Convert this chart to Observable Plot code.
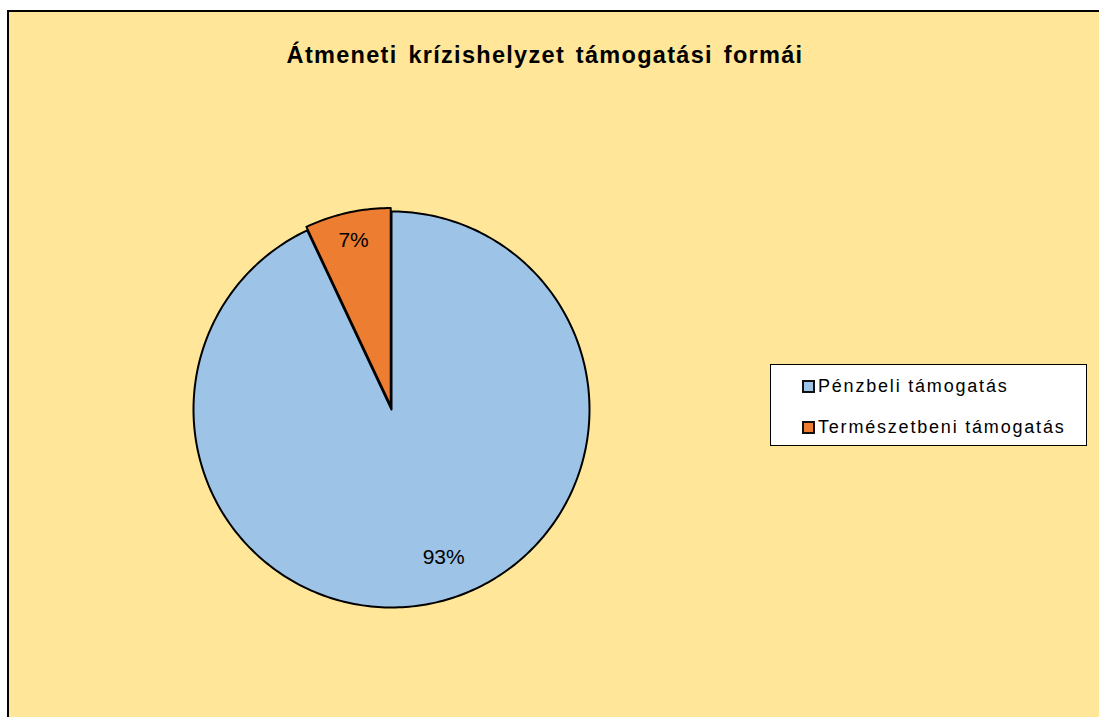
<!DOCTYPE html>
<html>
<head>
<meta charset="utf-8">
<script src="https://cdn.jsdelivr.net/npm/d3@7"></script>
<script src="https://cdn.jsdelivr.net/npm/@observablehq/plot@0.6"></script>
<style>
  html, body { margin: 0; padding: 0; background: #ffffff; width: 1099px; height: 717px; overflow: hidden; font-family: "Liberation Sans", Arial, sans-serif; }
  #frame { position: absolute; left: 7px; top: 10px; width: 1100px; height: 720px; background: #FFE699; border-left: 2px solid #000; border-top: 2px solid #000; box-sizing: border-box; }
  #title { position: absolute; left: 0; width: 1072px; top: 30px; text-align: center; font-weight: bold; font-size: 23.5px; letter-spacing: 1.3px; word-spacing: 3px; color: #000; white-space: nowrap; }
  #pie { position: absolute; left: 162px; top: 177px; }
  #legend { position: absolute; left: 761px; top: 352px; width: 317px; height: 82px; background: #fff; border: 1px solid #000; box-sizing: border-box; }
  .item { position: absolute; left: 31px; font-size: 18px; letter-spacing: 1.8px; line-height: 20px; color: #000; display: flex; align-items: center; white-space: nowrap; }
  .sw { width: 9px; height: 9px; border: 2px solid #111; margin-right: 3px; }
</style>
</head>
<body>
<div id="frame">
  <div id="title"></div>
  <div id="pie"></div>
  <div id="legend"></div>
</div>
<script>
const categories = ["Pénzbeli támogatás", "Természetbeni támogatás"];
const values = [93, 7];
const labels = ["93%", "7%"];
const colors = ["#9DC3E6", "#ED7D31"];
const titleText = "Átmeneti krízishelyzet támogatási formái";

document.getElementById("title").textContent = titleText;

// legend
const legend = document.getElementById("legend");
categories.forEach((c, i) => {
  const d = document.createElement("div");
  d.className = "item";
  d.style.top = (i === 0 ? 11 : 52) + "px";
  const sw = document.createElement("span");
  sw.className = "sw";
  sw.style.background = colors[i];
  const t = document.createElement("span");
  t.textContent = c;
  d.appendChild(sw); d.appendChild(t);
  legend.appendChild(d);
});

// pie geometry (angles clockwise from 12 o'clock)
const total = d3.sum(values);
const slices = [];
let acc = 0;
values.forEach((v, i) => {
  const a0 = acc / total * 2 * Math.PI;
  acc += v;
  const a1 = acc / total * 2 * Math.PI;
  slices.push({name: categories[i], label: labels[i], a0, a1, i});
});

const R = 1;           // unit radius
const size = 440;
const pxPerUnit = 198;
const half = size / 2 / pxPerUnit;
const explode = [0, 0.018];
const labelAngleShift = [-0.12, 0.0];
const labelR = [0.79, 0.86];

const pts = [];
const lbl = [];
slices.forEach(s => {
  const mid = (s.a0 + s.a1) / 2;
  const ox = Math.sin(mid) * explode[s.i];
  const oy = Math.cos(mid) * explode[s.i];
  const n = Math.max(4, Math.ceil((s.a1 - s.a0) / (Math.PI / 180)));
  pts.push({name: s.name, x: ox, y: oy});
  for (let k = 0; k <= n; k++) {
    const a = s.a0 + (s.a1 - s.a0) * k / n;
    pts.push({name: s.name, x: ox + R * Math.sin(a), y: oy + R * Math.cos(a)});
  }
  const la = mid + labelAngleShift[s.i];
  lbl.push({label: s.label, x: ox + labelR[s.i] * Math.sin(la), y: oy + labelR[s.i] * Math.cos(la)});
});

const chart = Plot.plot({
  width: size,
  height: size,
  margin: 0,
  x: {domain: [-half, half], axis: null},
  y: {domain: [-half, half], axis: null},
  color: {domain: categories, range: colors},
  style: {background: "transparent", overflow: "visible"},
  marks: [
    Plot.line(pts, {x: "x", y: "y", z: "name", fill: "name", stroke: "#000", strokeWidth: 2, curve: "linear-closed", strokeLinejoin: "round"}),
    Plot.text(lbl, {x: "x", y: "y", text: "label", fontSize: 21, fill: "#000", fontFamily: "Liberation Sans, Arial, sans-serif"})
  ]
});
document.getElementById("pie").appendChild(chart);
</script>
</body>
</html>
